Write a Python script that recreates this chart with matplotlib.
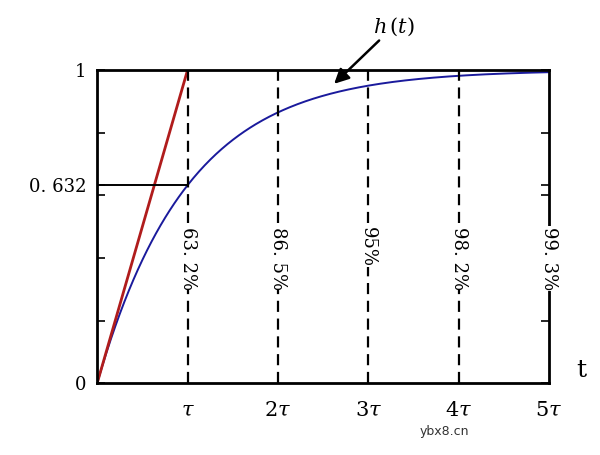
import numpy as np
import matplotlib.pyplot as plt

plt.rcParams["mathtext.fontset"] = "dejavuserif"

# data
tau_ticks = [1, 2, 3, 4, 5]
tau_labels = [r"$\tau$", r"$2\tau$", r"$3\tau$", r"$4\tau$", r"$5\tau$"]
percent_labels = ["63. 2%", "86. 5%", "95%", "98. 2%", "99. 3%"]
y_mark = 0.632

fig = plt.figure(figsize=(6, 4.55), dpi=100)
ax = fig.add_axes([0.162, 0.158, 0.753, 0.688])

t = np.linspace(0, 5, 400)
ax.plot(t, 1 - np.exp(-t), color="#1a1a9c", lw=1.4)
ax.plot([0, 1], [0, 1], color="#b01c1c", lw=2)
ax.plot([0, 1], [y_mark, y_mark], color="black", lw=1.4)

for x, lab in zip(tau_ticks, percent_labels):
    if x < 5:
        ax.axvline(x, color="black", ls=(0, (5, 3)), lw=1.6)
    ax.text(x, 0.50, lab, rotation=270, ha="center", va="top",
            fontsize=13, family="DejaVu Serif",
            bbox=dict(facecolor="white", edgecolor="none", pad=0.5))

ax.set_xlim(0, 5)
ax.set_ylim(0, 1)
ax.set_xticks(tau_ticks)
ax.set_xticklabels(tau_labels, fontsize=15)
ax.set_yticks([0, y_mark, 1])
ax.set_yticklabels(["0", "0. 632", "1"], fontsize=13, family="DejaVu Serif")
ax.set_yticks([0.2, 0.4, 0.6, 0.8], minor=True)
ax.tick_params(axis="both", which="both", direction="in", length=6, width=1.2,
               right=True, pad=8)
ax.tick_params(axis="x", length=0, pad=12)
for s in ax.spines.values():
    s.set_linewidth(2)

ax.annotate(r"$h\,(t)$", xy=(2.6, 0.95), xytext=(3.05, 1.12),
            fontsize=15, annotation_clip=False,
            arrowprops=dict(arrowstyle="-|>", color="black", lw=1.8,
                            mutation_scale=22, shrinkA=0))
ax.text(5.3, 0.02, "t", fontsize=18, family="DejaVu Serif")
fig.text(0.70, 0.045, "ybx8.cn", fontsize=9, color="#333333")

fig.savefig("out.png", dpi=100)
